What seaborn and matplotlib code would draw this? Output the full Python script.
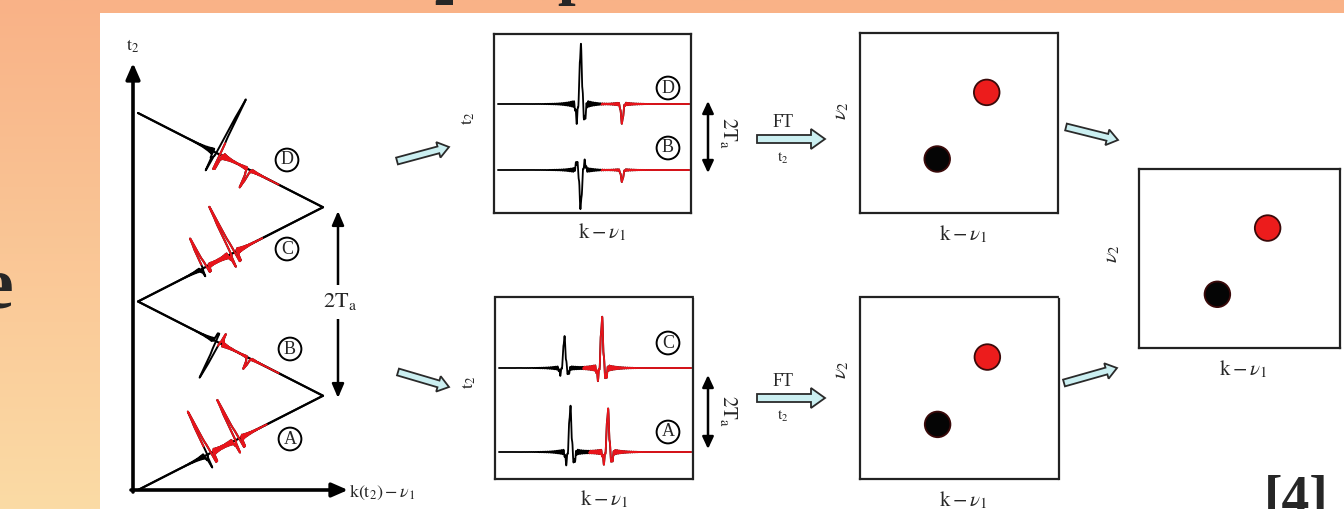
import numpy as np
import matplotlib
matplotlib.use("Agg")
import matplotlib.pyplot as plt
import matplotlib.patches as mpatches
import seaborn as sns

# ---------------- data ----------------
trace_names = ["A", "B", "C", "D"]
black_pos = [0.38, 0.44, 0.35, 0.44]      # k - nu1 position of black peak
black_amp = [0.77, -0.65, 0.53, 1.00]     # intensity of black peak
black_lobe = [-0.18, 0.14, -0.10, -0.28]
red_pos = [0.57, 0.65, 0.54, 0.65]        # k - nu1 position of red peak
red_amp = [0.72, -0.20, 0.85, -0.33]      # intensity of red peak
red_lobe = [-0.17, 0.0, -0.17, 0.0]

zig_k = [0, 1, 0, 1, 0]                   # k(t2) - nu1 of the zig-zag vertices
zig_t = [0, 1, 2, 3, 4]                   # t2 (units of Ta)
seg_t0 = [0, 2, 2, 4]                     # t2 at k=0 for A, B, C, D
seg_dir = [1, -1, 1, -1]                  # slope sign of each segment

dot_labels = ["black", "red"]
dot_k = [0.39, 0.64]
dot_nu2 = [0.30, 0.67]

# ---------------- style ----------------
sns.set_theme(style="white")
plt.rcParams['font.family'] = ['Liberation Serif', 'DejaVu Serif']
plt.rcParams['mathtext.fontset'] = 'stix'

W, H = 1344, 509
fig = plt.figure(figsize=(W / 100, H / 100), dpi=100)


def px_axes(x0, y0, x1, y1):
    return fig.add_axes([x0 / W, 1 - y1 / H, (x1 - x0) / W, (y1 - y0) / H])


def lineshape(k, p, a, lobe):
    d = k - p
    core = a * np.exp(-(d / 0.008) ** 2)
    side = lobe * (np.exp(-((d + 0.02) / 0.007) ** 2) + np.exp(-((d - 0.02) / 0.007) ** 2))
    grass = 0.11 * abs(a) * np.sin(2 * np.pi * d / 0.009) * np.exp(-np.abs(d) / 0.05)
    return core + side + grass


def signal(i, k):
    return (lineshape(k, black_pos[i], black_amp[i], black_lobe[i]) +
            lineshape(k, red_pos[i], red_amp[i], red_lobe[i]))


# ---------------- background ----------------
bg = fig.add_axes([0, 0, 1, 1])
bg.set_xlim(0, W)
bg.set_ylim(H, 0)
bg.axis('off')
top_c = np.array([249, 178, 135]) / 255
bot_c = np.array([251, 219, 165]) / 255
grad = np.linspace(0, 1, 256)[:, None, None] * (bot_c - top_c) + top_c
grad = np.repeat(grad, 2, axis=1)
bg.imshow(grad, extent=(0, W, H, 0), aspect='auto', zorder=0)
bg.text(454, 5, "2", fontsize=30, fontweight='bold', ha='right', va='baseline', zorder=0.5)
bg.text(557, -8, "p", fontsize=46, fontweight='bold', ha='left', va='baseline', zorder=0.5)
bg.text(13, 307, "e", fontsize=53, fontweight='bold', ha='right', va='baseline', zorder=0.5)
bg.add_patch(mpatches.Rectangle((100, 13), W - 100, H - 13, fc='white', ec='none', zorder=1))
bg.text(1264, 515, "[4]", fontsize=40, fontweight='bold', ha='left', va='baseline', zorder=2)

# ---------------- left diagram ----------------
L_x0, L_x1, L_y0, L_y1 = 110, 350, 55, 500
axL = px_axes(L_x0, L_y0, L_x1, L_y1)
SX, SY = 185.0, 94.25
K0_PX, T0_PX = 138, 490
axL.set_xlim((L_x0 - K0_PX) / SX, (L_x1 - K0_PX) / SX)
axL.set_ylim((T0_PX - L_y1) / SY, (T0_PX - L_y0) / SY)
axL.axis('off')
axL.patch.set_alpha(0)

sns.lineplot(x=zig_k, y=zig_t, sort=False, estimator=None, color='black', lw=1.6, ax=axL)

s = np.linspace(0.0, 1.0, 1600)
for i in range(4):
    kk = (s - 0.08) / 0.8
    sig = signal(i, kk) * 58.0
    d = np.array([SX, SY * seg_dir[i]])
    d = d / np.linalg.norm(d)
    n = np.array([-d[1], d[0]])
    px = SX * s + sig * n[0]
    py = SY * (seg_t0[i] + seg_dir[i] * s) + sig * n[1]
    xs, ys = px / SX, py / SY
    sns.lineplot(x=xs, y=ys, sort=False, estimator=None, color='black', lw=1.4, ax=axL)
    m = np.abs(kk - red_pos[i]) < 0.2
    sns.lineplot(x=xs[m], y=ys[m], sort=False, estimator=None, color='#E8141B', lw=1.4, ax=axL)

# axes arrows of the left diagram
bg.annotate('', xy=(133, 63), xytext=(133, 492),
            arrowprops=dict(arrowstyle='-|>,head_length=0.8,head_width=0.35', lw=2.6,
                            color='black', shrinkA=0, shrinkB=0), zorder=4)
bg.annotate('', xy=(348, 490), xytext=(131, 490),
            arrowprops=dict(arrowstyle='-|>,head_length=0.8,head_width=0.35', lw=2.6,
                            color='black', shrinkA=0, shrinkB=0), zorder=4)
bg.text(133, 46, r'$\mathrm{t_2}$', ha='center', va='center', fontsize=13, zorder=4)
bg.text(349, 492, r'$\mathrm{k(t_2)}-\nu_1$', ha='left', va='center', fontsize=13, zorder=4)

bg.annotate('', xy=(338, 211), xytext=(338, 398),
            arrowprops=dict(arrowstyle='<|-|>,head_length=0.7,head_width=0.3', lw=1.8,
                            color='black', shrinkA=0, shrinkB=0), zorder=4)
bg.text(340, 302, r'$2\mathrm{T_a}$', fontsize=16, ha='center', va='center',
        bbox=dict(fc='white', ec='none', pad=5), zorder=5)

circ = dict(boxstyle='circle,pad=0.16', fc='white', ec='black', lw=1.4)
for lab, (cx, cy) in zip(["D", "C", "B", "A"], [(287, 160), (287, 249), (290, 349), (290, 439)]):
    bg.text(cx, cy, lab, fontsize=13, ha='center', va='center', bbox=circ, zorder=6)


# ---------------- middle panels ----------------
def box_style(ax):
    ax.set_xticks([])
    ax.set_yticks([])
    ax.patch.set_alpha(0)
    for sp in ax.spines.values():
        sp.set_visible(True)
        sp.set_linestyle((0, (1, 1)))
        sp.set_color('#222222')
        sp.set_linewidth(1.6)


kgrid = np.linspace(0.02, 0.99, 1500)
mid_specs = [
    ((494, 34, 691, 213), [("D", 3, 109), ("B", 1, 43)]),
    ((495, 297, 693, 479), [("C", 2, 111), ("A", 0, 27)]),
]
for (x0, y0, x1, y1), rows in mid_specs:
    ax = px_axes(x0, y0, x1, y1)
    box_style(ax)
    ax.set_xlim(0, 1)
    ax.set_ylim(0, y1 - y0)
    for lab, i, base in rows:
        y = base + 57.0 * signal(i, kgrid)
        sns.lineplot(x=kgrid, y=y, estimator=None, color='black', lw=1.3, ax=ax)
        mid = 0.5 * (black_pos[i] + red_pos[i])
        m = kgrid > mid
        sns.lineplot(x=kgrid[m], y=y[m], estimator=None, color='#E8141B', lw=1.3, ax=ax)
    ax.set_xlabel('')
    ax.set_ylabel('')
    ax.text(-0.13, 0.53, r'$\mathrm{t_2}$', rotation=90, transform=ax.transAxes,
            ha='center', va='center', fontsize=13)
    ax.text(0.55, -0.11, r'$\mathrm{k}-\nu_1$', transform=ax.transAxes,
            ha='center', va='center', fontsize=15, clip_on=False)

for lab, (cx, cy) in zip(["D", "B", "C", "A"], [(668, 88), (668, 148), (668, 343), (668, 432)]):
    bg.text(cx, cy, lab, fontsize=13, ha='center', va='center', bbox=circ, zorder=6)

for (ya, yb, yt) in [(101, 173, 133), (375, 449, 411)]:
    bg.annotate('', xy=(708, ya), xytext=(708, yb),
                arrowprops=dict(arrowstyle='<|-|>,head_length=0.6,head_width=0.28', lw=1.8,
                                color='black', shrinkA=0, shrinkB=0), zorder=4)
    bg.text(729, yt, r'$2\mathrm{T_a}$', rotation=-90, fontsize=15, ha='center', va='center', zorder=4)

arrow_fc, arrow_ec = '#CBEFF1', '#2A2A2A'
for (yc, yft, yt2) in [(139, 122, 158), (398, 382, 416)]:
    bg.add_patch(mpatches.FancyArrow(757, yc, 68, 0, width=8, head_width=20, head_length=14,
                                     length_includes_head=True, fc=arrow_fc, ec=arrow_ec,
                                     lw=1.3, zorder=4))
    bg.text(783, yft, 'FT', fontsize=13, ha='center', va='center', zorder=4)
    bg.text(783, yt2, r'$\mathrm{t_2}$', fontsize=11, ha='center', va='center', zorder=4)

for (xa, ya, xb, yb) in [(397, 161, 449, 147), (398, 372, 449, 387),
                         (1066, 127, 1118, 140), (1064, 383, 1117, 368)]:
    bg.add_patch(mpatches.FancyArrow(xa, ya, xb - xa, yb - ya, width=7, head_width=16,
                                     head_length=11, length_includes_head=True,
                                     fc=arrow_fc, ec=arrow_ec, lw=1.3, zorder=4))

# ---------------- 2D spectra ----------------
pal = {"black": "#050505", "red": "#EC1C1C"}
for (x0, y0, x1, y1), lab_xy in [((860, 33, 1058, 213), (-0.09, 0.57)),
                                 ((860, 297, 1059, 479), (-0.09, 0.60)),
                                 ((1139, 169, 1340, 348), (-0.13, 0.53))]:
    ax = px_axes(x0, y0, x1, y1)
    box_style(ax)
    sns.scatterplot(x=dot_k, y=dot_nu2, hue=dot_labels, palette=pal, s=340,
                    edgecolor='#3a0a0a', linewidth=1.3, legend=False, ax=ax, zorder=3)
    ax.set_xlim(0, 1)
    ax.set_ylim(0, 1)
    ax.set_xlabel('')
    ax.set_ylabel('')
    ax.text(lab_xy[0], lab_xy[1], r'$\nu_2$', rotation=90, transform=ax.transAxes,
            ha='center', va='center', fontsize=15)
    ax.text(0.52, -0.12, r'$\mathrm{k}-\nu_1$', transform=ax.transAxes,
            ha='center', va='center', fontsize=15, clip_on=False)

fig.savefig("out.png", dpi=100)
